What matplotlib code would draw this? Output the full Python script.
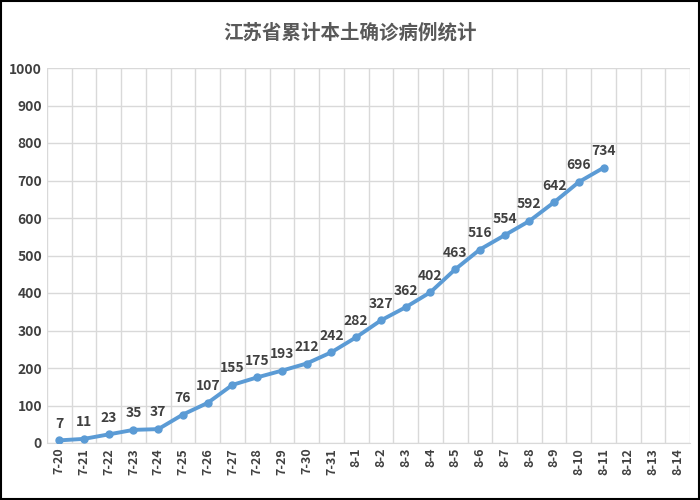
import matplotlib
matplotlib.use("Agg")
import matplotlib.pyplot as plt

plt.rcParams['font.family'] = ['Noto Sans CJK SC', 'DejaVu Sans']

dates = ["7-20","7-21","7-22","7-23","7-24","7-25","7-26","7-27","7-28","7-29","7-30","7-31",
         "8-1","8-2","8-3","8-4","8-5","8-6","8-7","8-8","8-9","8-10","8-11","8-12","8-13","8-14"]
values = [7,11,23,35,37,76,107,155,175,193,212,242,282,327,362,402,463,516,554,592,642,696,734]

fig = plt.figure(figsize=(7,5), dpi=100)
ax = fig.add_axes([0.067, 0.114, 0.919, 0.75])
x = list(range(len(values)))
ax.plot(x, values, color='#5B9BD5', lw=2.8, marker='o', ms=5, zorder=3)
for xi, v in zip(x, values):
    ax.annotate(str(v), (xi, v), xytext=(0, 7), textcoords='offset points',
                ha='center', va='bottom', fontsize=10, fontweight='bold', color='#404040')
ax.set_xlim(-0.5, len(dates)-0.5)
ax.set_ylim(0, 1000)
ax.set_yticks(range(0, 1001, 100))
ax.set_xticks(range(len(dates)))
ax.set_xticklabels(dates, rotation=90, fontsize=9, fontweight='bold', color='#404040')
ax.tick_params(axis='y', labelsize=10, colors='#404040', length=0)
ax.tick_params(axis='x', length=0)
for lab in ax.get_yticklabels():
    lab.set_fontweight('bold')
ax.set_xticks([i+0.5 for i in range(-1, len(dates))], minor=True)
ax.grid(True, which='major', axis='y', color='#D9D9D9', lw=1)
ax.grid(True, which='minor', axis='x', color='#D9D9D9', lw=1)
ax.tick_params(which='minor', length=0)
for s in ['top','right','left']:
    ax.spines[s].set_visible(False)
ax.spines['bottom'].set_color('#D9D9D9')
fig.text(0.5, 0.935, "江苏省累计本土确诊病例统计", ha='center', va='center',
         fontsize=14, fontweight='bold', color='#595959')
fig.patches.append(plt.Rectangle((0.002,0.002),0.996,0.996, transform=fig.transFigure,
                                 fill=False, edgecolor='black', lw=1.5))
fig.savefig("out.png", dpi=100)
